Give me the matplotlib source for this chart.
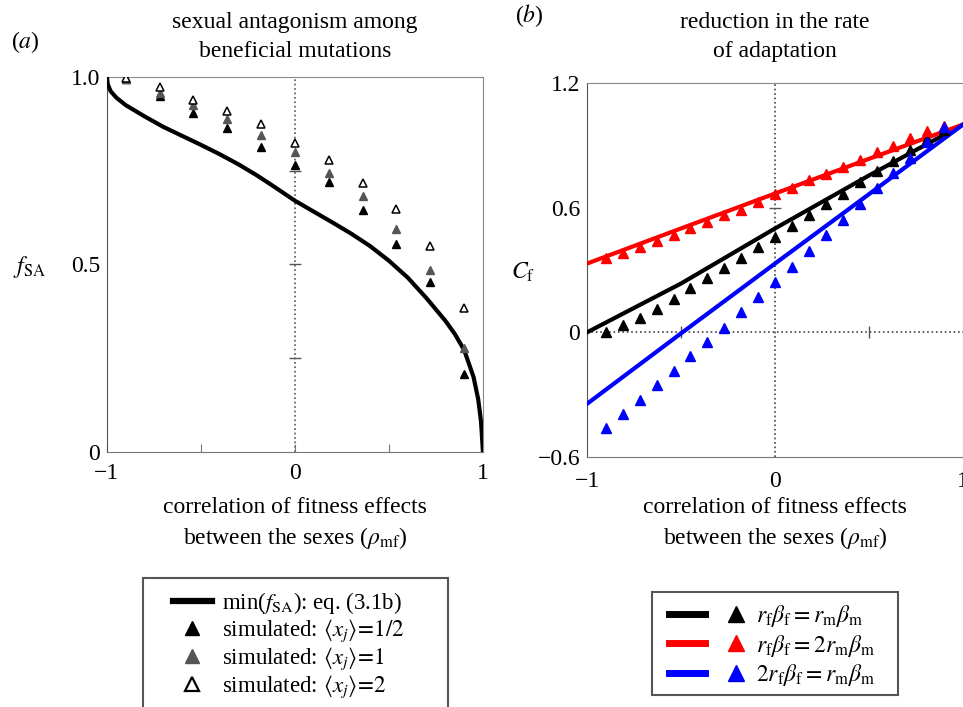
import numpy as np
import matplotlib.pyplot as plt
from matplotlib.lines import Line2D
from matplotlib.patches import Rectangle
from matplotlib.legend_handler import HandlerTuple

plt.rcParams['font.family'] = 'serif'
plt.rcParams['font.serif'] = ['Liberation Serif', 'DejaVu Serif']
plt.rcParams['mathtext.fontset'] = 'stix'

# (a) min(f_SA) curve
rho_curve = [-1.0, -0.995, -0.98, -0.95, -0.9, -0.8, -0.7, -0.6, -0.5, -0.4, -0.3, -0.2,
             -0.1, 0.0, 0.1, 0.2, 0.3, 0.4, 0.5, 0.6, 0.7, 0.8, 0.85, 0.9, 0.95, 0.975,
             0.99, 1.0]
fsa_curve = [1.0, 0.98, 0.962, 0.945, 0.925, 0.895, 0.867, 0.843, 0.819, 0.794, 0.767, 0.737,
             0.704, 0.67, 0.641, 0.612, 0.582, 0.549, 0.51, 0.465, 0.41, 0.35, 0.315, 0.272,
             0.2, 0.14, 0.08, 0.0]

# (a) simulated points
rho_sim = [-0.9, -0.72, -0.54, -0.36, -0.18, 0.0, 0.18, 0.36, 0.54, 0.72, 0.9]
f_half = [0.995, 0.950, 0.905, 0.865, 0.813, 0.766, 0.719, 0.644, 0.554, 0.452, 0.208]
f_one = [0.995, 0.956, 0.925, 0.888, 0.845, 0.799, 0.745, 0.683, 0.594, 0.484, 0.277]
f_two = [0.996, 0.972, 0.939, 0.908, 0.874, 0.825, 0.778, 0.718, 0.647, 0.550, 0.383]

# (b) analytic lines
rho_line = [-1.0, -0.5, 0.0, 0.5, 1.0]
c_equal = [0.0, 0.235, 0.50, 0.755, 1.0]
c_f2 = [0.331, 0.50, 0.668, 0.835, 1.0]
c_m2 = [-0.344, -0.005, 0.331, 0.665, 1.0]

# (b) simulated points
rho_pts = [-0.9, -0.81, -0.72, -0.63, -0.54, -0.45, -0.36, -0.27, -0.18, -0.09, 0.0,
           0.09, 0.18, 0.27, 0.36, 0.45, 0.54, 0.63, 0.72, 0.81, 0.9]
sim_equal = [0.0, 0.034, 0.071, 0.114, 0.159, 0.214, 0.262, 0.312, 0.360, 0.411, 0.459,
             0.512, 0.567, 0.617, 0.668, 0.724, 0.777, 0.824, 0.877, 0.930, 0.973]
sim_f2 = [0.36, 0.384, 0.411, 0.44, 0.467, 0.50, 0.532, 0.564, 0.591, 0.628, 0.665,
          0.697, 0.733, 0.761, 0.797, 0.829, 0.866, 0.898, 0.933, 0.97, 0.993]
sim_m2 = [-0.461, -0.392, -0.324, -0.255, -0.188, -0.116, -0.047, 0.023, 0.098, 0.170, 0.242,
          0.315, 0.392, 0.467, 0.540, 0.617, 0.693, 0.765, 0.840, 0.917, 0.989]

FS = 17
W, H = 963, 707
fig = plt.figure(figsize=(9.63, 7.07), dpi=100)


def fx(px):
    return px / W


def fy(py):
    return 1 - py / H


# ---------- panel (a)
ax = fig.add_axes([0.111, 0.3607, 0.3905, 0.5304])
ax.axvline(0, color='#555555', ls=':', lw=1.2, zorder=1)
ax.plot([0, 0, 0], [0.25, 0.5, 0.75], ls='none', marker='_', ms=8, color='#555555', mew=1)
ax.plot(rho_curve, fsa_curve, color='black', lw=3, zorder=3)
ax.plot(rho_sim, f_half, ls='none', marker='^', ms=6, color='black', zorder=4)
ax.plot(rho_sim, f_one, ls='none', marker='^', ms=6, color='#555555', zorder=4)
ax.plot(rho_sim, f_two, ls='none', marker='^', ms=6, mfc='white', mec='black', mew=1.1, zorder=5)
ax.set_xlim(-1, 1)
ax.set_ylim(0, 1)
ax.set_xticks([-1, -0.5, 0, 0.5, 1])
ax.set_xticklabels(['\u22121', '', '0', '', '1'])
ax.set_yticks([0, 0.5, 1.0])
ax.set_yticklabels(['0', '0.5', '1.0'])
ax.tick_params(axis='x', direction='in', length=6, color='#777777', labelsize=FS, pad=8)
ax.tick_params(axis='y', length=0, labelsize=FS, pad=5)
for s in ['top', 'right']:
    ax.spines[s].set_color('#888888')
ax.spines['left'].set_color('#555555')
ax.spines['bottom'].set_color('#777777')

fig.text(fx(295), fy(37), 'sexual antagonism among\nbeneficial mutations',
         ha='center', va='center', fontsize=FS, linespacing=1.55)
fig.text(fx(25), fy(42), '($a$)', ha='center', va='center', fontsize=FS)
fig.text(fx(29), fy(267), r'$f_{\rm SA}$', ha='center', va='center', fontsize=FS)
fig.text(fx(295), fy(524),
         'correlation of fitness effects\nbetween the sexes ($\\rho_{\\rm mf}$)',
         ha='center', va='center', fontsize=FS, linespacing=1.35)

# legend (a): frame drawn separately so it keeps the reference size
fig.patches.append(Rectangle((fx(143), fy(712)), fx(448 - 143), 134 / H,
                             transform=fig.transFigure, fill=False,
                             edgecolor='#555555', lw=1.5))
hA = [Line2D([], [], color='black', lw=4.5),
      Line2D([], [], ls='none', marker='^', ms=10, color='black'),
      Line2D([], [], ls='none', marker='^', ms=10, color='#555555'),
      Line2D([], [], ls='none', marker='^', ms=10, mfc='white', mec='black', mew=1.6)]
lA = [r'min($f_{\rm SA}$): eq. (3.1b)',
      r'simulated: $\langle x_j\rangle\!=\!1/2$',
      r'simulated: $\langle x_j\rangle\!=\!1$',
      r'simulated: $\langle x_j\rangle\!=\!2$']
fig.legend(hA, lA, loc='upper left', bbox_to_anchor=(fx(173), fy(590)),
           fontsize=16.5, frameon=False, handlelength=1.7, handletextpad=0.45,
           labelspacing=0.06, borderpad=0, borderaxespad=0)

# ---------- panel (b)
bx = fig.add_axes([0.6096, 0.3536, 0.3904, 0.529])
bx.axvline(0, color='#444444', ls=':', lw=1.2, zorder=1)
bx.axhline(0, color='#444444', ls=':', lw=1.2, zorder=1)
bx.plot([0], [0.6], ls='none', marker='_', ms=8, color='#555555', mew=1)
bx.plot([-0.5, 0.5], [0, 0], ls='none', marker='|', ms=8, color='#555555', mew=1)
bx.plot(rho_line, c_equal, color='black', lw=3, zorder=3)
bx.plot(rho_line, c_f2, color='red', lw=3, zorder=3)
bx.plot(rho_line, c_m2, color='blue', lw=3, zorder=3)
bx.plot(rho_pts, sim_equal, ls='none', marker='^', ms=7, color='black', zorder=4)
bx.plot(rho_pts, sim_f2, ls='none', marker='^', ms=7, color='red', zorder=4)
bx.plot(rho_pts, sim_m2, ls='none', marker='^', ms=7, color='blue', zorder=4)
bx.set_xlim(-1, 1)
bx.set_ylim(-0.6, 1.2)
bx.set_xticks([-1, 0, 1])
bx.set_xticklabels(['\u22121', '0', '1'])
bx.set_yticks([-0.6, 0, 0.6, 1.2])
bx.set_yticklabels(['\u22120.6', '0', '0.6', '1.2'])
bx.tick_params(axis='both', length=0, labelsize=FS, pad=5)
bx.tick_params(axis='x', pad=10)
for s in ['top', 'right']:
    bx.spines[s].set_color('#888888')
bx.spines['left'].set_color('#555555')
bx.spines['bottom'].set_color('#777777')

fig.text(fx(775), fy(37), 'reduction in the rate\nof adaptation',
         ha='center', va='center', fontsize=FS, linespacing=1.55)
fig.text(fx(529), fy(16), '($b$)', ha='center', va='center', fontsize=FS)
fig.text(fx(523), fy(272), r'$C_{\rm f}$', ha='center', va='center', fontsize=FS)
fig.text(fx(775), fy(524),
         'correlation of fitness effects\nbetween the sexes ($\\rho_{\\rm mf}$)',
         ha='center', va='center', fontsize=FS, linespacing=1.35)

fig.patches.append(Rectangle((fx(652), fy(695)), fx(898 - 652), 103 / H,
                             transform=fig.transFigure, fill=False,
                             edgecolor='#555555', lw=1.5))
hB = []
for col in ['black', 'red', 'blue']:
    hB.append((Line2D([], [], color=col, lw=5),
               Line2D([], [], ls='none', marker='^', ms=11, color=col)))
lB = [r'$r_{\rm f}\beta_{\rm f} = r_{\rm m}\beta_{\rm m}$',
      r'$r_{\rm f}\beta_{\rm f} = 2r_{\rm m}\beta_{\rm m}$',
      r'$2r_{\rm f}\beta_{\rm f} = r_{\rm m}\beta_{\rm m}$']
fig.legend(hB, lB, loc='upper left', bbox_to_anchor=(fx(669), fy(603)),
           handler_map={tuple: HandlerTuple(ndivide=None, pad=0.55)},
           fontsize=FS, frameon=False, handlelength=3.6, handletextpad=0.1,
           labelspacing=0.15, borderpad=0, borderaxespad=0)

fig.savefig('out.png', dpi=100)
